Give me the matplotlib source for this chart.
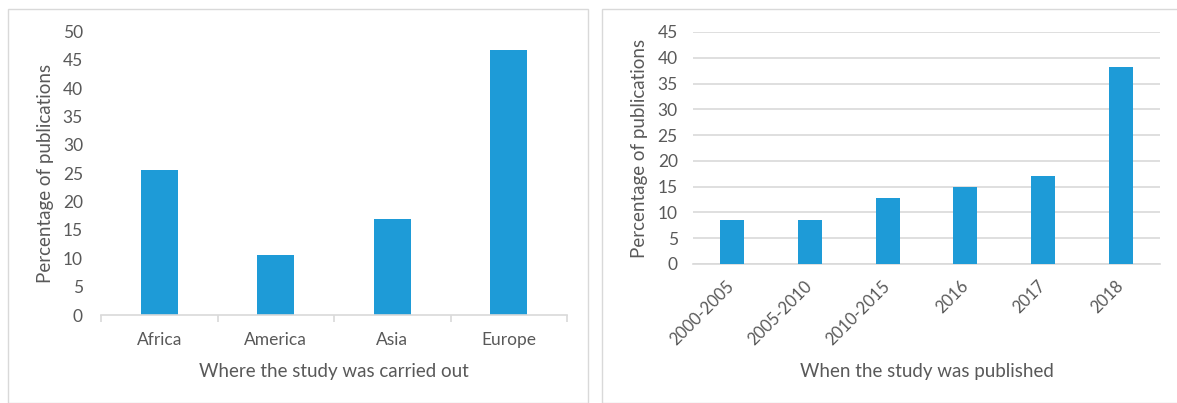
import matplotlib.pyplot as plt
from matplotlib.patches import Rectangle
import numpy as np

# data
regions = ['Africa', 'America', 'Asia', 'Europe']
region_pct = [25.5, 10.6, 17.0, 46.8]

periods = ['2000-2005', '2005-2010', '2010-2015', '2016', '2017', '2018']
period_pct = [8.5, 8.5, 12.8, 14.9, 17.0, 38.3]

bar_color = '#1E9BD7'
text_color = '#595959'
line_color = '#D9D9D9'

plt.rcParams['font.family'] = ['Lato', 'DejaVu Sans']

W, H = 1177, 403
fig = plt.figure(figsize=(W / 100, H / 100), dpi=100)

# panel frames
for x0, x1 in [(8, 588), (602, 1180)]:
    fig.patches.append(Rectangle((x0 / W, 0), (x1 - x0) / W, 1 - 9 / H,
                                 transform=fig.transFigure, fill=False,
                                 edgecolor=line_color, linewidth=1))


def style(ax, pad):
    for s in ['top', 'right', 'left']:
        ax.spines[s].set_visible(False)
    ax.spines['bottom'].set_color(line_color)
    ax.spines['bottom'].set_linewidth(1.2)
    ax.tick_params(axis='y', length=0, labelsize=12.5, labelcolor=text_color, pad=pad)
    ax.set_ylabel('Percentage of publications', fontsize=13.5, color=text_color)


# left: where
ax1 = fig.add_axes([101 / W, 1 - 315 / H, (567 - 101) / W, (315 - 31.5) / H])
x = np.arange(len(regions))
ax1.bar(x, region_pct, width=0.32, color=bar_color)
ax1.set_xlim(-0.5, len(regions) - 0.5)
ax1.set_ylim(0, 50)
ax1.set_yticks(range(0, 51, 5))
ax1.set_xticks(x)
ax1.set_xticklabels(regions)
ax1.set_xticks(np.arange(-0.5, len(regions), 1), minor=True)
ax1.tick_params(axis='x', which='major', length=0, labelsize=12.5, labelcolor=text_color, pad=12)
ax1.tick_params(axis='x', which='minor', length=5, color=line_color, width=1.2)
style(ax1, 13)
ax1.set_xlabel('Where the study was carried out', fontsize=13.5, color=text_color)
ax1.xaxis.set_label_coords(0.5, -0.17)
ax1.yaxis.set_label_coords(-0.1, 0.5)

# right: when
ax2 = fig.add_axes([693 / W, 1 - 264 / H, (1160 - 693) / W, (264 - 32) / H])
x2 = np.arange(len(periods))
ax2.bar(x2, period_pct, width=0.31, color=bar_color, zorder=3)
ax2.set_xlim(-0.5, len(periods) - 0.5)
ax2.set_ylim(0, 45)
ax2.set_yticks(range(0, 46, 5))
ax2.grid(axis='y', color=line_color, linewidth=1.2, zorder=0)
ax2.set_xticks(x2)
ax2.set_xticklabels(periods, rotation=45, ha='right', va='center', rotation_mode='anchor')
ax2.tick_params(axis='x', length=0, labelsize=12, labelcolor=text_color, pad=14)
style(ax2, 11)
ax2.set_xlabel('When the study was published', fontsize=13.5, color=text_color)
ax2.xaxis.set_label_coords(0.5, -0.425)
ax2.yaxis.set_label_coords(-0.097, 0.5)

fig.savefig('out.png', dpi=100)
